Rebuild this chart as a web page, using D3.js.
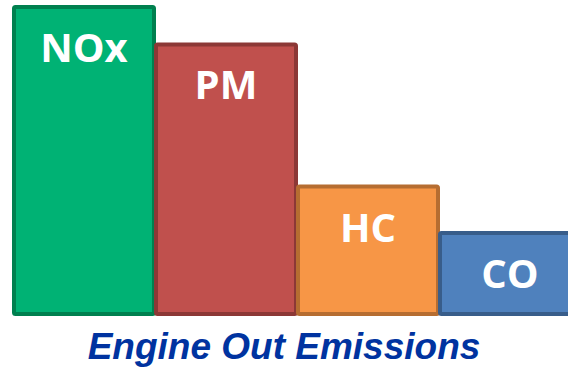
<!DOCTYPE html>
<html>
<head>
<meta charset="utf-8">
<script src="https://cdn.jsdelivr.net/npm/d3@7"></script>
<style>
  html, body { margin: 0; padding: 0; background: #fff; }
  svg { display: block; }
</style>
</head>
<body>
<svg id="chart" width="568" height="368"></svg>
<script>
// Relative engine-out emission levels (NOx = 100)
const categories = ["NOx", "PM", "HC", "CO"];
const values = [100, 87.8, 41.5, 26.4];
const fills = ["#00B274", "#C0504D", "#F79646", "#4F81BD"];
const strokes = ["#00804F", "#8C3836", "#B66D31", "#385D8A"];
const title = "Engine Out Emissions";

const svg = d3.select("#chart");
const W = 568;

// Band scale: bars sit edge to edge, last one runs off the right edge
const x = d3.scaleBand().domain(categories).range([14, 582]).paddingInner(0).paddingOuter(0);
const y = d3.scaleLinear().domain([0, 100]).range([314, 7]);

const data = categories.map((c, i) => ({ c, v: values[i], fill: fills[i], stroke: strokes[i] }));

const g = svg.append("g");

g.selectAll("rect.bar")
  .data(data)
  .join("rect")
  .attr("class", "bar")
  .attr("x", d => x(d.c))
  .attr("y", d => y(d.v))
  .attr("width", x.bandwidth() - 2)
  .attr("height", d => y(0) - y(d.v))
  .attr("rx", 1.5)
  .attr("fill", d => d.fill)
  .attr("stroke", d => d.stroke)
  .attr("stroke-width", 4)
  .attr("stroke-linejoin", "round");

g.selectAll("text.lbl")
  .data(data)
  .join("text")
  .attr("class", "lbl")
  .attr("x", d => x(d.c) + (x.bandwidth() - 2) / 2)
  .attr("y", d => y(d.v) + 55)
  .attr("text-anchor", "middle")
  .attr("fill", "#ffffff")
  .attr("font-family", "'Open Sans', sans-serif")
  .attr("font-weight", "bold")
  .attr("font-size", 40)
  .text(d => d.c);

svg.append("text")
  .attr("x", W / 2)
  .attr("y", 359)
  .attr("text-anchor", "middle")
  .attr("fill", "#0033A0")
  .attr("font-family", "'Liberation Sans', Arial, sans-serif")
  .attr("font-weight", "bold")
  .attr("font-style", "italic")
  .attr("font-size", 37)
  .text(title);
</script>
</body>
</html>
